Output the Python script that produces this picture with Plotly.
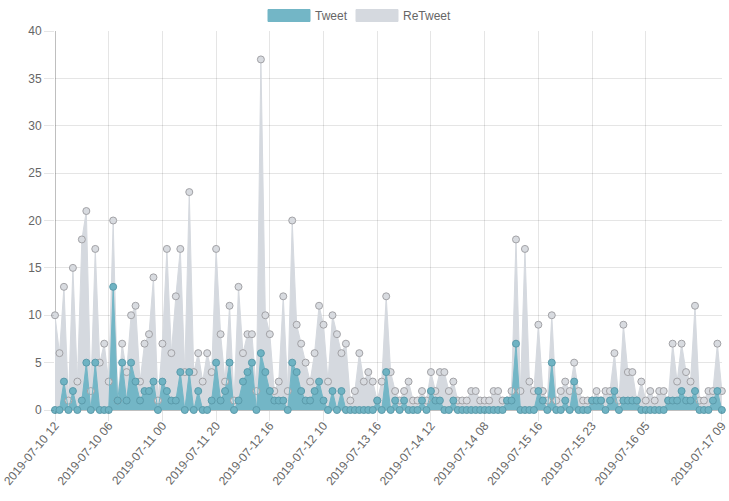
import plotly.graph_objects as go

# ---- data ----
tweet = [0, 0, 3, 0, 2, 0, 1, 5, 0, 5, 0, 0, 0, 13, 1, 5, 1, 5, 3, 1,
         2, 2, 3, 0, 3, 2, 1, 1, 4, 0, 4, 0, 2, 0, 0, 1, 5, 1, 2, 5,
         0, 1, 3, 4, 5, 0, 6, 4, 2, 1, 1, 1, 0, 5, 4, 2, 1, 1, 2, 3,
         1, 0, 2, 0, 2, 0, 0, 0, 0, 0, 0, 0, 1, 0, 4, 0, 1, 0, 1, 0,
         0, 0, 1, 0, 2, 1, 1, 0, 0, 1, 0, 0, 0, 0, 0, 0, 0, 0, 0, 0,
         0, 1, 1, 7, 0, 0, 0, 0, 2, 1, 0, 5, 0, 0, 1, 0, 3, 0, 0, 0,
         1, 1, 1, 0, 1, 2, 0, 1, 1, 1, 1, 0, 0, 0, 0, 0, 0, 1, 1, 1,
         2, 1, 1, 2, 0, 0, 0, 1, 2, 0]
retweet = [10, 6, 13, 1, 15, 3, 18, 21, 2, 17, 5, 7, 3, 20, 1, 7, 4, 10, 11, 3,
           7, 8, 14, 1, 7, 17, 6, 12, 17, 4, 23, 4, 6, 3, 6, 4, 17, 8, 3, 11,
           1, 13, 6, 8, 8, 2, 37, 10, 8, 2, 3, 12, 2, 20, 9, 7, 5, 3, 6, 11,
           9, 3, 10, 8, 6, 7, 1, 2, 6, 3, 4, 3, 1, 3, 12, 4, 2, 1, 2, 3,
           1, 1, 2, 1, 4, 2, 4, 4, 2, 3, 1, 1, 1, 2, 2, 1, 1, 1, 2, 2,
           1, 1, 2, 18, 2, 17, 3, 2, 9, 2, 1, 10, 1, 2, 3, 2, 5, 2, 1, 1,
           1, 2, 1, 2, 2, 6, 1, 9, 4, 4, 1, 3, 1, 2, 1, 2, 2, 1, 7, 3,
           7, 4, 3, 11, 1, 1, 2, 2, 7, 2]
tick_index = [0, 12, 24, 36, 48, 60, 72, 84, 96, 108, 120, 132, 149]
tick_labels = ["2019-07-10 12", "2019-07-10 06", "2019-07-11 00", "2019-07-11 20",
               "2019-07-12 16", "2019-07-12 10", "2019-07-13 16", "2019-07-14 12",
               "2019-07-14 08", "2019-07-15 16", "2019-07-15 23", "2019-07-16 05",
               "2019-07-17 09"]
series_names = ["Tweet", "ReTweet"]

x = list(range(len(tweet)))

TEAL_FILL = "#73b6c6"
TEAL_PT = "#6fb3c3"
TEAL_BORDER = "#5b9bab"
GREY_FILL = "#d5d9df"
GREY_PT = "#d8dbe0"
GREY_BORDER = "#a2a2a6"
FONT = "Liberation Sans, Arial, Helvetica, sans-serif"

fig = go.Figure()

# fills first (as Chart.js filler plugin does)
fig.add_trace(go.Scatter(x=x, y=retweet, mode="none", fill="tozeroy",
                         fillcolor=GREY_FILL, showlegend=False, hoverinfo="skip"))
fig.add_trace(go.Scatter(x=x, y=tweet, mode="none", fill="tozeroy",
                         fillcolor=TEAL_FILL, showlegend=False, hoverinfo="skip"))
# lines + points
fig.add_trace(go.Scatter(x=x, y=retweet, mode="lines+markers", name=series_names[1],
                         line=dict(color=GREY_FILL, width=1),
                         marker=dict(size=7, color=GREY_PT,
                                     line=dict(color=GREY_BORDER, width=1)),
                         cliponaxis=False, showlegend=False))
fig.add_trace(go.Scatter(x=x, y=tweet, mode="lines+markers", name=series_names[0],
                         line=dict(color=TEAL_FILL, width=1),
                         marker=dict(size=7, color=TEAL_PT,
                                     line=dict(color=TEAL_BORDER, width=1)),
                         cliponaxis=False, showlegend=False))

W, H = 729, 501
plot_l, plot_r, plot_t, plot_b = 55, 722, 31, 410
pw, ph = plot_r - plot_l, plot_b - plot_t
def px(xp):
    return (xp - plot_l) / pw
def py(yp):
    return (plot_b - yp) / ph

# legend drawn as boxes + real text (Chart.js style)
legend_items = [(series_names[0], TEAL_FILL, 268, 310, 315),
                (series_names[1], GREY_FILL, 356, 398, 403)]
shapes = []
annotations = []
for name, col, x0, x1, tx in legend_items:
    shapes.append(dict(type="rect", xref="paper", yref="paper",
                       x0=px(x0), x1=px(x1), y0=py(21.5), y1=py(9.5),
                       fillcolor=col, line=dict(color=col, width=1), layer="above"))
    annotations.append(dict(text=name, xref="paper", yref="paper", x=px(tx - 2), y=py(15.5),
                            xanchor="left", yanchor="middle", showarrow=False,
                            font=dict(family=FONT, size=12, color="#666666")))

fig.update_layout(
    width=W, height=H,
    margin=dict(l=plot_l, r=W - plot_r, t=plot_t, b=H - plot_b, autoexpand=False),
    paper_bgcolor="white", plot_bgcolor="white",
    showlegend=False,
    shapes=shapes, annotations=annotations,
    font=dict(family=FONT, size=12, color="#666666"),
    xaxis=dict(range=[0, len(tweet) - 1 + 0.03], tickmode="array", tickvals=tick_index,
               ticktext=tick_labels, tickangle=-50, showgrid=True, automargin=False,
               ticklabeloverflow="allow", ticklabelstandoff=-7,
               gridcolor="rgba(0,0,0,0.1)", gridwidth=1,
               ticks="outside", ticklen=10, tickcolor="rgba(0,0,0,0.1)",
               zeroline=True, zerolinecolor="rgba(0,0,0,0.25)", zerolinewidth=1,
               showline=False, tickfont=dict(family=FONT, size=12, color="#666666")),
    yaxis=dict(range=[0, 40], dtick=5, showgrid=True, gridcolor="rgba(0,0,0,0.1)",
               automargin=False,
               ticks="outside", ticklen=10, tickcolor="rgba(0,0,0,0.1)",
               zeroline=True, zerolinecolor="rgba(0,0,0,0.25)", zerolinewidth=1,
               tickfont=dict(family=FONT, size=12, color="#666666")),
)

fig.write_html("out.html", config={"displayModeBar": False},
               post_script="document.body.style.margin='0px';")
